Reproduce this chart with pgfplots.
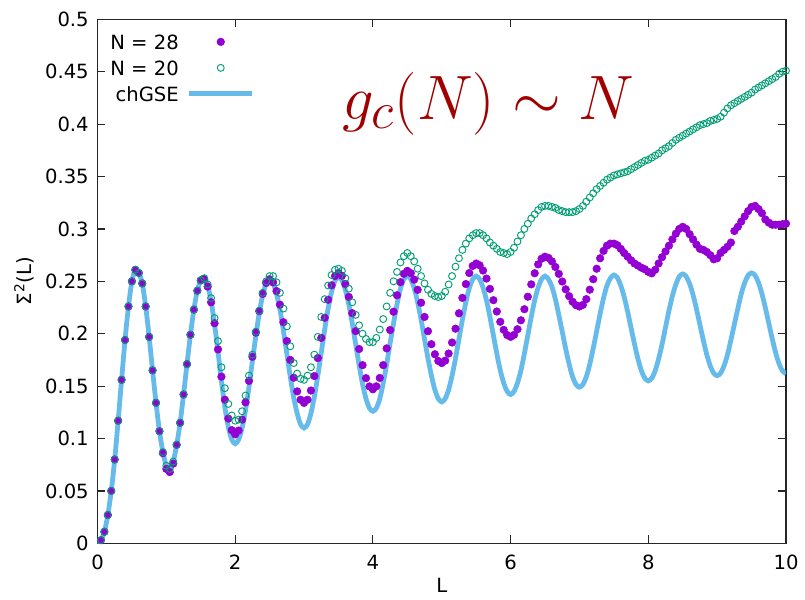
\documentclass[border=0pt]{standalone}
\usepackage{pgfplots}
\pgfplotsset{compat=1.18}
\usepackage{pgfplotstable}
\usepackage{fontspec}
\setmainfont{DejaVu Sans}

\definecolor{gpviolet}{HTML}{9400D3}
\definecolor{gpgreen}{HTML}{009E73}
\definecolor{gpblue}{HTML}{56B4E9}
\definecolor{annotred}{HTML}{A00000}

% legend samples: a mark in the middle of a 47pt cell, or a full line
\pgfplotsset{
  markimg/.style={legend image code/.code={
    \path (0pt,0pt) (47pt,0pt);
    \draw[mark repeat=2, mark phase=2, ##1] plot coordinates {(0pt,0pt) (23.5pt,0pt) (47pt,0pt)};}},
  lineimg/.style={legend image code/.code={\draw[##1] (0pt,0pt) -- (47pt,0pt);}},
}

% number variance of the chGSE reference curve
\pgfplotstableread{
L S
0.00 0.000
0.05 0.003
0.10 0.011
0.15 0.027
0.20 0.050
0.25 0.080
0.30 0.117
0.35 0.156
0.40 0.194
0.45 0.226
0.50 0.250
0.55 0.261
0.60 0.258
0.65 0.248
0.70 0.226
0.75 0.197
0.80 0.165
0.85 0.134
0.90 0.107
0.95 0.087
1.00 0.074
1.05 0.071
1.10 0.078
1.15 0.094
1.20 0.115
1.25 0.142
1.30 0.171
1.35 0.199
1.40 0.223
1.45 0.241
1.50 0.251
1.55 0.253
1.60 0.246
1.65 0.231
1.70 0.209
1.75 0.183
1.80 0.155
1.85 0.130
1.90 0.111
1.95 0.099
2.00 0.095
2.05 0.099
2.10 0.110
2.15 0.127
2.20 0.149
2.25 0.174
2.30 0.198
2.35 0.220
2.40 0.237
2.45 0.248
2.50 0.252
2.55 0.2485
2.60 0.238
2.65 0.223
2.70 0.203
2.75 0.181
2.80 0.159
2.85 0.139
2.90 0.124
2.95 0.1135
3.00 0.110
3.05 0.1135
3.10 0.124
3.15 0.140
3.20 0.160
3.25 0.182
3.30 0.204
3.35 0.224
3.40 0.240
3.45 0.2505
3.50 0.254
3.55 0.251
3.60 0.242
3.65 0.228
3.70 0.210
3.75 0.190
3.80 0.170
3.85 0.152
3.90 0.138
3.95 0.129
4.00 0.126
4.05 0.129
4.10 0.138
4.15 0.153
4.20 0.171
4.25 0.191
4.30 0.210
4.35 0.228
4.40 0.243
4.45 0.252
4.50 0.255
4.55 0.252
4.60 0.2435
4.65 0.230
4.70 0.2135
4.75 0.195
4.80 0.1765
4.85 0.160
4.90 0.1465
4.95 0.138
5.00 0.135
5.05 0.138
5.10 0.1465
5.15 0.160
5.20 0.1765
5.25 0.195
5.30 0.2135
5.35 0.230
5.40 0.2435
5.45 0.252
5.50 0.255
5.55 0.252
5.60 0.244
5.65 0.232
5.70 0.216
5.75 0.1985
5.80 0.181
5.85 0.165
5.90 0.153
5.95 0.145
6.00 0.142
6.05 0.145
6.10 0.153
6.15 0.165
6.20 0.181
6.25 0.1985
6.30 0.216
6.35 0.232
6.40 0.244
6.45 0.252
6.50 0.255
6.55 0.252
6.60 0.245
6.65 0.233
6.70 0.218
6.75 0.202
6.80 0.1856
6.85 0.171
6.90 0.159
6.95 0.1516
7.00 0.149
7.05 0.1516
7.10 0.159
7.15 0.171
7.20 0.186
7.25 0.2025
7.30 0.219
7.35 0.234
7.40 0.246
7.45 0.253
7.50 0.256
7.55 0.2535
7.60 0.246
7.65 0.235
7.70 0.221
7.75 0.2055
7.80 0.190
7.85 0.176
7.90 0.1646
7.95 0.1575
8.00 0.155
8.05 0.1575
8.10 0.1647
8.15 0.176
8.20 0.190
8.25 0.206
8.30 0.222
8.35 0.236
8.40 0.247
8.45 0.2545
8.50 0.257
8.55 0.2546
8.60 0.2477
8.65 0.237
8.70 0.2235
8.75 0.2085
8.80 0.1935
8.85 0.180
8.90 0.1693
8.95 0.1624
9.00 0.160
9.05 0.1624
9.10 0.1694
9.15 0.180
9.20 0.194
9.25 0.209
9.30 0.224
9.35 0.238
9.40 0.2486
9.45 0.2556
9.50 0.258
9.55 0.2557
9.60 0.2488
9.65 0.2382
9.70 0.2248
9.75 0.210
9.80 0.1952
9.85 0.1818
9.90 0.1712
9.95 0.1644
10.00 0.162
}\chgse

% N = 28
\pgfplotstableread{
L S
0.05 0.003
0.10 0.011
0.15 0.027
0.20 0.050
0.25 0.080
0.30 0.117
0.35 0.156
0.40 0.194
0.45 0.226
0.50 0.250
0.55 0.261
0.60 0.258
0.65 0.248
0.70 0.226
0.75 0.197
0.80 0.165
0.85 0.134
0.90 0.107
0.95 0.086
1.00 0.071
1.05 0.068
1.10 0.076
1.15 0.094
1.20 0.115
1.25 0.142
1.30 0.171
1.35 0.199
1.40 0.223
1.45 0.241
1.50 0.251
1.55 0.252
1.60 0.245
1.65 0.230
1.70 0.210
1.75 0.185
1.80 0.159
1.85 0.137
1.90 0.119
1.95 0.108
2.00 0.104
2.05 0.1076
2.10 0.118
2.15 0.1345
2.20 0.155
2.25 0.178
2.30 0.201
2.35 0.2215
2.40 0.238
2.45 0.2484
2.50 0.252
2.55 0.249
2.60 0.2407
2.65 0.2277
2.70 0.211
2.75 0.193
2.80 0.175
2.85 0.158
2.90 0.145
2.95 0.137
3.00 0.134
3.05 0.137
3.10 0.1458
3.15 0.1596
3.20 0.1768
3.25 0.196
3.30 0.2152
3.35 0.2324
3.40 0.2462
3.45 0.255
3.50 0.258
3.55 0.2553
3.60 0.2474
3.65 0.2351
3.70 0.2196
3.75 0.2025
3.80 0.1854
3.85 0.170
3.90 0.1576
3.95 0.1497
4.00 0.147
4.05 0.1498
4.10 0.1578
4.15 0.170
4.20 0.186
4.25 0.2035
4.30 0.221
4.35 0.2367
4.40 0.2492
4.45 0.2572
4.50 0.260
4.55 0.2578
4.60 0.2516
4.65 0.2419
4.70 0.2296
4.75 0.216
4.80 0.2024
4.85 0.190
4.90 0.1804
4.95 0.174
5.00 0.172
5.05 0.1743
5.10 0.1811
5.15 0.1916
5.20 0.2048
5.25 0.2195
5.30 0.2342
5.35 0.2474
5.40 0.2579
5.45 0.2647
5.50 0.267
5.55 0.2653
5.60 0.2603
5.65 0.2526
5.70 0.2428
5.75 0.232
5.80 0.2212
5.85 0.2114
5.90 0.2037
5.95 0.1987
6.00 0.197
6.05 0.1989
6.10 0.2043
6.15 0.2128
6.20 0.2234
6.25 0.2353
6.30 0.2471
6.35 0.2577
6.40 0.2662
6.45 0.2716
6.50 0.2735
6.55 0.2723
6.60 0.269
6.65 0.2637
6.70 0.2571
6.75 0.2498
6.80 0.2424
6.85 0.2358
6.90 0.2305
6.95 0.2272
7.00 0.226
7.05 0.2275
7.10 0.2330
7.15 0.242
7.20 0.252
7.25 0.262
7.30 0.272
7.35 0.279
7.40 0.284
7.45 0.286
7.50 0.286
7.55 0.2845
7.60 0.281
7.65 0.277
7.70 0.2735
7.75 0.270
7.80 0.267
7.85 0.265
7.90 0.263
7.95 0.2615
8.00 0.259
8.05 0.2576
8.10 0.261
8.15 0.267
8.20 0.273
8.25 0.2785
8.30 0.284
8.35 0.290
8.40 0.2955
8.45 0.300
8.50 0.302
8.55 0.300
8.60 0.295
8.65 0.290
8.70 0.285
8.75 0.281
8.80 0.280
8.85 0.278
8.90 0.275
8.95 0.271
9.00 0.272
9.05 0.277
9.10 0.280
9.15 0.283
9.20 0.287
9.25 0.298
9.30 0.302
9.35 0.307
9.40 0.312
9.45 0.317
9.50 0.321
9.55 0.322
9.60 0.319
9.65 0.315
9.70 0.309
9.75 0.306
9.80 0.304
9.85 0.304
9.90 0.304
9.95 0.3045
10.00 0.305
}\nbig

% N = 20
\pgfplotstableread{
L S
0.05 0.003
0.10 0.011
0.15 0.027
0.20 0.050
0.25 0.080
0.30 0.117
0.35 0.156
0.40 0.194
0.45 0.226
0.50 0.250
0.55 0.261
0.60 0.258
0.65 0.248
0.70 0.226
0.75 0.197
0.80 0.165
0.85 0.134
0.90 0.107
0.95 0.087
1.00 0.074
1.05 0.071
1.10 0.078
1.15 0.094
1.20 0.115
1.25 0.142
1.30 0.171
1.35 0.199
1.40 0.223
1.45 0.241
1.50 0.251
1.55 0.253
1.60 0.247
1.65 0.234
1.70 0.215
1.75 0.193
1.80 0.168
1.85 0.148
1.90 0.133
1.95 0.122
2.00 0.117
2.05 0.118
2.10 0.126
2.15 0.141
2.20 0.160
2.25 0.180
2.30 0.202
2.35 0.222
2.40 0.239
2.45 0.250
2.50 0.255
2.55 0.255
2.60 0.249
2.65 0.239
2.70 0.224
2.75 0.207
2.80 0.188
2.85 0.172
2.90 0.162
2.95 0.157
3.00 0.156
3.05 0.160
3.10 0.168
3.15 0.180
3.20 0.197
3.25 0.216
3.30 0.233
3.35 0.246
3.40 0.256
3.45 0.261
3.50 0.262
3.55 0.260
3.60 0.253
3.65 0.243
3.70 0.230
3.75 0.218
3.80 0.208
3.85 0.200
3.90 0.195
3.95 0.192
4.00 0.192
4.05 0.196
4.10 0.204
4.15 0.214
4.20 0.226
4.25 0.239
4.30 0.250
4.35 0.259
4.40 0.268
4.45 0.274
4.50 0.277
4.55 0.274
4.60 0.269
4.65 0.262
4.70 0.255
4.75 0.248
4.80 0.242
4.85 0.238
4.90 0.236
4.95 0.235
5.00 0.236
5.05 0.240
5.10 0.247
5.15 0.255
5.20 0.264
5.25 0.272
5.30 0.280
5.35 0.286
5.40 0.291
5.45 0.294
5.50 0.296
5.55 0.296
5.60 0.294
5.65 0.291
5.70 0.287
5.75 0.284
5.80 0.281
5.85 0.278
5.90 0.277
5.95 0.276
6.00 0.278
6.05 0.282
6.10 0.288
6.15 0.294
6.20 0.300
6.25 0.305
6.30 0.310
6.35 0.314
6.40 0.318
6.45 0.321
6.50 0.322
6.55 0.322
6.60 0.321
6.65 0.320
6.70 0.318
6.75 0.317
6.80 0.316
6.85 0.316
6.90 0.316
6.95 0.317
7.00 0.319
7.05 0.322
7.10 0.326
7.15 0.330
7.20 0.334
7.25 0.338
7.30 0.341
7.35 0.344
7.40 0.347
7.45 0.349
7.50 0.351
7.55 0.352
7.60 0.353
7.65 0.354
7.70 0.355
7.75 0.357
7.80 0.359
7.85 0.361
7.90 0.363
7.95 0.365
8.00 0.366
8.05 0.368
8.10 0.370
8.15 0.372
8.20 0.375
8.25 0.377
8.30 0.379
8.35 0.382
8.40 0.385
8.45 0.387
8.50 0.389
8.55 0.391
8.60 0.393
8.65 0.395
8.70 0.397
8.75 0.399
8.80 0.400
8.85 0.401
8.90 0.403
8.95 0.404
9.00 0.405
9.05 0.407
9.10 0.411
9.15 0.415
9.20 0.418
9.25 0.420
9.30 0.422
9.35 0.424
9.40 0.426
9.45 0.428
9.50 0.430
9.55 0.433
9.60 0.435
9.65 0.437
9.70 0.439
9.75 0.441
9.80 0.443
9.85 0.445
9.90 0.448
9.95 0.450
10.00 0.451
}\nsmall

\begin{document}
\begin{tikzpicture}[font=\fontsize{14.7pt}{17pt}\selectfont]
\begin{axis}[
  scale only axis,
  width=516.4pt, height=393pt,
  xmin=0, xmax=10, ymin=0, ymax=0.5,
  xtick={0,2,4,6,8,10},
  ytick={0,0.05,0.1,0.15,0.2,0.25,0.3,0.35,0.4,0.45,0.5},
  tick align=inside,
  major tick length=6pt,
  axis line style={black!85, line width=0.9pt},
  every tick/.style={black!85, line width=0.9pt},
  /pgf/number format/assume math mode=true,
  yticklabel style={/pgf/number format/fixed, /pgf/number format/precision=2,
    inner sep=0pt, xshift=-6.4pt},
  xticklabel style={inner sep=0pt, yshift=-8.5pt},
  scaled y ticks=false,
  xlabel={L},
  ylabel={Σ\textsuperscript{2}(L)},
  xlabel style={at={(axis description cs:0.5,-0.0796)}, anchor=center},
  ylabel style={at={(axis description cs:-0.1067,0.5)}, anchor=center},
  legend cell align=right,
  legend plot pos=right,
  legend style={at={(axis description cs:0,1)}, anchor=north west,
    xshift=9.4pt, yshift=-11.2pt, draw=none, fill=none,
    inner sep=0pt, row sep=8.5pt, column sep=6.2pt,
    nodes={inner sep=0pt, text height=11pt, text depth=0pt}},
]
\addplot[only marks, mark=*, mark size=2.85pt, color=gpviolet, markimg]
  table[x=L, y=S] {\nbig};
\addlegendentry{N = 28}
\addplot[only marks, mark=o, mark size=2.6pt, color=gpgreen,
  mark options={line width=0.7pt}, markimg]
  table[x=L, y=S] {\nsmall};
\addlegendentry{N = 20}
\addplot[smooth, no marks, color=gpblue, line width=3.6pt, opacity=0.9, lineimg]
  table[x=L, y=S] {\chgse};
\addlegendentry{chGSE}
\node[anchor=base west, inner sep=0pt, text=annotred, scale=1.89, transform shape,
  font=\fontsize{24.88pt}{28pt}\selectfont]
  at (axis cs:3.547,0.4046) {$g_c(N) \sim N$};
\end{axis}
\pgfresetboundingbox
\path[use as bounding box]
  ([shift={(-73.125pt,-42.5pt)}]current axis.south west)
  rectangle ([shift={(14.25pt,14.5pt)}]current axis.north east);
\end{tikzpicture}
\end{document}
